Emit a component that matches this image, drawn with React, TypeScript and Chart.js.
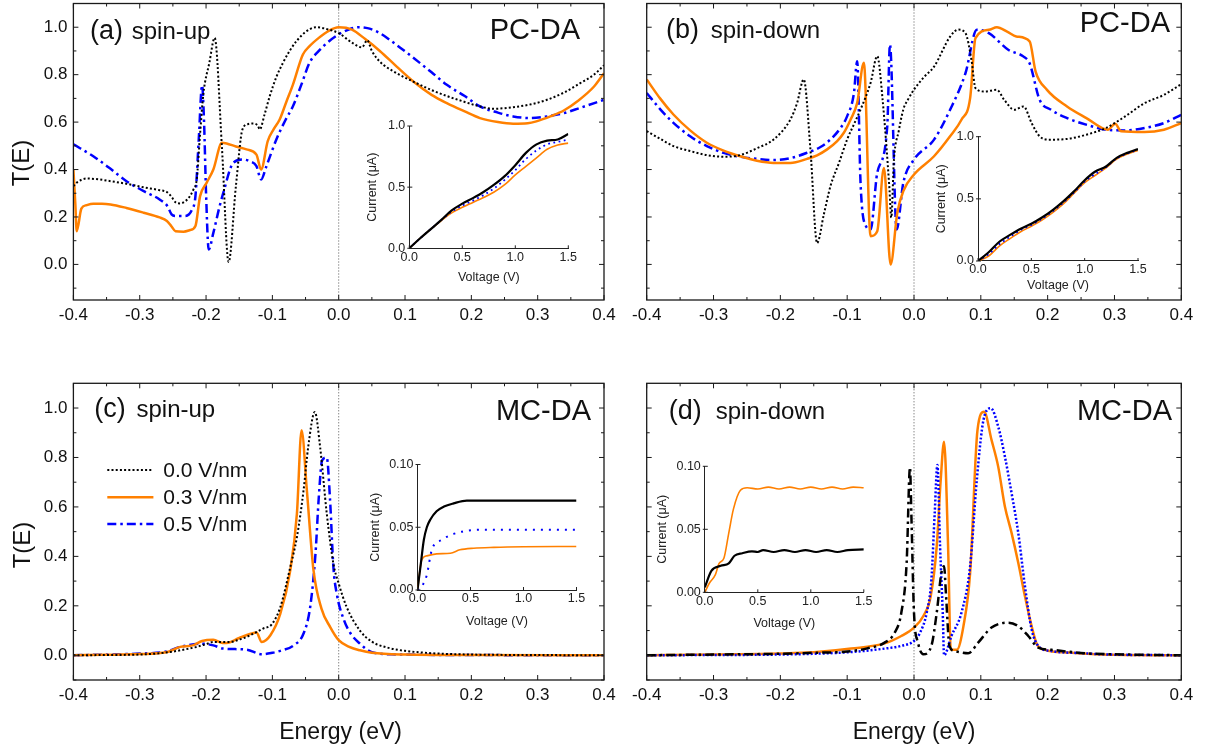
import React, { useEffect, useRef } from "react";
import { Chart, registerables } from "chart.js";
Chart.register(...registerables);

type Pt = [number, number];

// ---------- Axis tick values ----------
const ENERGY_TICKS = [-0.4, -0.3, -0.2, -0.1, 0, 0.1, 0.2, 0.3, 0.4];
const ENERGY_MINOR = [-0.35, -0.25, -0.15, -0.05, 0.05, 0.15, 0.25, 0.35];
const T_TICKS = [0, 0.2, 0.4, 0.6, 0.8, 1.0];
const T_MINOR = [-0.1, 0.1, 0.3, 0.5, 0.7, 0.9];
const V_TICKS = [0, 0.5, 1.0, 1.5];
const I_TICKS_PC = [0, 0.5, 1.0];
const I_TICKS_MC = [0, 0.05, 0.1];
const FIELD_LABELS = ["0.0 V/nm", "0.3 V/nm", "0.5 V/nm"];

// ---------- (a) PC-DA spin-up : T(E) ----------
const A_F00: Pt[] = [[-0.4,0.33],[-0.395,0.345],[-0.38,0.362],[-0.36,0.358],[-0.344,0.351],[-0.32,0.34],[-0.294,0.325],[-0.27,0.313],[-0.259,0.305],[-0.252,0.285],[-0.246,0.262],[-0.239,0.257],[-0.232,0.265],[-0.226,0.281],[-0.219,0.316],[-0.214,0.36],[-0.209,0.55],[-0.204,0.72],[-0.195,0.85],[-0.187,0.955],[-0.176,0.49],[-0.166,0.01],[-0.155,0.33],[-0.145,0.57],[-0.136,0.592],[-0.129,0.594],[-0.122,0.585],[-0.119,0.569],[-0.112,0.63],[-0.104,0.709],[-0.094,0.79],[-0.084,0.85],[-0.074,0.9],[-0.064,0.94],[-0.05,0.98],[-0.034,1.0],[-0.015,0.99],[0.0,0.975],[0.02,0.935],[0.035,0.915],[0.043,0.945],[0.05,0.9],[0.062,0.855],[0.085,0.81],[0.113,0.77],[0.14,0.735],[0.163,0.71],[0.19,0.685],[0.213,0.666],[0.233,0.656],[0.263,0.663],[0.29,0.675],[0.314,0.694],[0.34,0.725],[0.364,0.764],[0.385,0.8],[0.4,0.84]];
const A_F03: Pt[] = [[-0.4,0.4],[-0.397,0.25],[-0.395,0.14],[-0.388,0.235],[-0.38,0.25],[-0.37,0.256],[-0.357,0.256],[-0.344,0.253],[-0.32,0.238],[-0.294,0.218],[-0.27,0.198],[-0.259,0.183],[-0.252,0.16],[-0.246,0.14],[-0.234,0.138],[-0.224,0.145],[-0.216,0.162],[-0.209,0.288],[-0.199,0.345],[-0.189,0.4],[-0.176,0.513],[-0.169,0.51],[-0.155,0.497],[-0.139,0.485],[-0.124,0.463],[-0.117,0.4],[-0.107,0.52],[-0.098,0.57],[-0.089,0.611],[-0.079,0.685],[-0.069,0.758],[-0.054,0.885],[-0.044,0.92],[-0.03,0.955],[-0.015,0.985],[0.0,1.0],[0.02,0.99],[0.04,0.95],[0.062,0.9],[0.087,0.835],[0.113,0.77],[0.14,0.715],[0.163,0.68],[0.19,0.645],[0.213,0.617],[0.24,0.6],[0.263,0.593],[0.285,0.595],[0.298,0.603],[0.32,0.625],[0.34,0.65],[0.361,0.69],[0.385,0.75],[0.4,0.806]];
const A_F05: Pt[] = [[-0.4,0.506],[-0.37,0.456],[-0.345,0.405],[-0.32,0.351],[-0.294,0.309],[-0.27,0.274],[-0.258,0.245],[-0.252,0.211],[-0.245,0.204],[-0.232,0.204],[-0.221,0.232],[-0.216,0.288],[-0.211,0.527],[-0.206,0.755],[-0.203,0.6],[-0.2,0.3],[-0.196,0.063],[-0.189,0.133],[-0.18,0.24],[-0.174,0.302],[-0.159,0.428],[-0.144,0.442],[-0.134,0.435],[-0.124,0.414],[-0.117,0.358],[-0.109,0.414],[-0.094,0.527],[-0.08,0.61],[-0.069,0.667],[-0.056,0.76],[-0.044,0.85],[-0.03,0.9],[-0.015,0.94],[0.0,0.97],[0.015,0.99],[0.03,1.0],[0.045,0.995],[0.062,0.975],[0.085,0.93],[0.113,0.87],[0.14,0.81],[0.163,0.757],[0.19,0.71],[0.213,0.666],[0.24,0.64],[0.263,0.624],[0.288,0.617],[0.314,0.624],[0.34,0.638],[0.364,0.66],[0.4,0.694]];

// ---------- (b) PC-DA spin-down : T(E) ----------
const B_F00: Pt[] = [[-0.4,0.562],[-0.38,0.53],[-0.36,0.499],[-0.335,0.478],[-0.31,0.461],[-0.285,0.454],[-0.26,0.461],[-0.235,0.49],[-0.21,0.527],[-0.185,0.611],[-0.175,0.68],[-0.165,0.78],[-0.155,0.485],[-0.145,0.09],[-0.135,0.21],[-0.125,0.33],[-0.112,0.43],[-0.1,0.527],[-0.09,0.59],[-0.08,0.653],[-0.065,0.765],[-0.055,0.878],[-0.047,0.695],[-0.037,0.33],[-0.034,0.197],[-0.03,0.442],[-0.023,0.56],[-0.016,0.653],[-0.008,0.7],[0.0,0.737],[0.015,0.79],[0.03,0.834],[0.054,0.96],[0.066,0.99],[0.077,0.975],[0.086,0.862],[0.092,0.743],[0.106,0.729],[0.124,0.736],[0.135,0.694],[0.15,0.652],[0.164,0.666],[0.176,0.596],[0.188,0.54],[0.202,0.526],[0.229,0.529],[0.258,0.547],[0.287,0.575],[0.316,0.624],[0.345,0.68],[0.374,0.715],[0.4,0.76]];
const B_F03: Pt[] = [[-0.4,0.78],[-0.38,0.7],[-0.36,0.632],[-0.335,0.565],[-0.31,0.513],[-0.285,0.48],[-0.26,0.456],[-0.235,0.437],[-0.21,0.428],[-0.185,0.428],[-0.16,0.445],[-0.145,0.46],[-0.13,0.485],[-0.115,0.52],[-0.105,0.555],[-0.095,0.61],[-0.085,0.681],[-0.075,0.85],[-0.065,0.119],[-0.055,0.14],[-0.045,0.407],[-0.035,0.0],[-0.025,0.218],[-0.016,0.309],[0.0,0.379],[0.03,0.456],[0.054,0.54],[0.071,0.61],[0.084,0.701],[0.092,0.954],[0.112,0.989],[0.124,1.0],[0.14,0.98],[0.153,0.961],[0.173,0.94],[0.182,0.813],[0.199,0.736],[0.229,0.666],[0.258,0.617],[0.29,0.568],[0.301,0.593],[0.31,0.561],[0.345,0.558],[0.374,0.568],[0.4,0.596]];
const B_F05: Pt[] = [[-0.4,0.723],[-0.38,0.655],[-0.36,0.597],[-0.335,0.54],[-0.31,0.499],[-0.285,0.47],[-0.26,0.454],[-0.235,0.445],[-0.21,0.44],[-0.185,0.448],[-0.16,0.471],[-0.14,0.495],[-0.125,0.527],[-0.11,0.575],[-0.1,0.625],[-0.09,0.72],[-0.085,0.857],[-0.08,0.344],[-0.072,0.162],[-0.065,0.147],[-0.055,0.386],[-0.04,0.583],[-0.036,0.927],[-0.026,0.147],[-0.016,0.344],[0.0,0.442],[0.03,0.526],[0.054,0.652],[0.077,0.806],[0.094,0.989],[0.112,0.975],[0.141,0.905],[0.164,0.876],[0.173,0.848],[0.188,0.694],[0.205,0.652],[0.229,0.617],[0.258,0.589],[0.287,0.568],[0.316,0.565],[0.345,0.575],[0.374,0.596],[0.4,0.631]];

// ---------- (c) MC-DA spin-up : T(E) ----------
const C_F00: Pt[] = [[-0.4,0.0],[-0.35,0.001],[-0.3,0.003],[-0.27,0.008],[-0.25,0.015],[-0.239,0.02],[-0.214,0.034],[-0.2,0.045],[-0.189,0.054],[-0.164,0.054],[-0.15,0.063],[-0.139,0.074],[-0.124,0.094],[-0.114,0.108],[-0.101,0.125],[-0.088,0.195],[-0.073,0.357],[-0.063,0.478],[-0.053,0.667],[-0.046,0.842],[-0.036,0.984],[-0.028,0.842],[-0.018,0.573],[-0.008,0.371],[0.0,0.29],[0.012,0.195],[0.032,0.1],[0.05,0.055],[0.075,0.03],[0.1,0.018],[0.15,0.007],[0.2,0.003],[0.3,0.001],[0.4,0.0]];
const C_F03: Pt[] = [[-0.4,0.0],[-0.35,0.002],[-0.3,0.005],[-0.26,0.012],[-0.239,0.034],[-0.22,0.04],[-0.206,0.058],[-0.189,0.063],[-0.175,0.05],[-0.169,0.05],[-0.15,0.07],[-0.131,0.088],[-0.124,0.092],[-0.116,0.054],[-0.103,0.081],[-0.088,0.168],[-0.073,0.344],[-0.063,0.573],[-0.056,0.91],[-0.048,0.667],[-0.038,0.344],[-0.026,0.189],[-0.013,0.115],[0.0,0.061],[0.015,0.035],[0.032,0.02],[0.05,0.01],[0.1,0.003],[0.2,0.001],[0.4,0.0]];
const C_F05: Pt[] = [[-0.4,0.0],[-0.35,0.003],[-0.3,0.007],[-0.26,0.015],[-0.239,0.034],[-0.206,0.047],[-0.189,0.04],[-0.174,0.027],[-0.139,0.023],[-0.116,0.004],[-0.1,0.01],[-0.088,0.018],[-0.068,0.04],[-0.053,0.088],[-0.043,0.195],[-0.035,0.411],[-0.03,0.64],[-0.025,0.788],[-0.018,0.8],[-0.013,0.627],[-0.008,0.357],[-0.003,0.25],[0.008,0.142],[0.018,0.088],[0.032,0.047],[0.05,0.012],[0.08,0.004],[0.2,0.001],[0.4,0.0]];

// ---------- (d) MC-DA spin-down : T(E) ----------
const D_F00: Pt[] = [[-0.4,0.0],[-0.3,0.003],[-0.2,0.006],[-0.15,0.01],[-0.1,0.015],[-0.07,0.028],[-0.044,0.051],[-0.029,0.091],[-0.019,0.172],[-0.011,0.374],[-0.006,0.76],[-0.004,0.575],[0.0,0.172],[0.006,0.051],[0.014,0.004],[0.026,0.038],[0.034,0.172],[0.041,0.333],[0.045,0.36],[0.048,0.239],[0.053,0.038],[0.061,0.017],[0.081,0.008],[0.096,0.051],[0.116,0.112],[0.141,0.132],[0.156,0.118],[0.171,0.078],[0.186,0.031],[0.206,0.022],[0.256,0.008],[0.3,0.004],[0.4,0.0]];
const D_F03: Pt[] = [[-0.4,0.0],[-0.3,0.003],[-0.2,0.007],[-0.15,0.012],[-0.094,0.027],[-0.044,0.048],[-0.019,0.078],[0.0,0.112],[0.014,0.159],[0.025,0.239],[0.034,0.441],[0.04,0.71],[0.045,0.864],[0.051,0.441],[0.055,0.024],[0.064,0.022],[0.074,0.118],[0.084,0.333],[0.095,0.911],[0.105,0.985],[0.116,0.871],[0.126,0.763],[0.136,0.602],[0.146,0.495],[0.156,0.374],[0.166,0.239],[0.176,0.118],[0.184,0.044],[0.196,0.022],[0.231,0.011],[0.281,0.003],[0.4,0.0]];
const D_F05: Pt[] = [[-0.4,0.0],[-0.2,0.003],[-0.15,0.006],[-0.094,0.013],[-0.044,0.027],[-0.019,0.038],[0.0,0.058],[0.009,0.091],[0.019,0.172],[0.026,0.306],[0.031,0.575],[0.035,0.77],[0.039,0.441],[0.043,0.172],[0.045,0.0],[0.056,0.078],[0.071,0.172],[0.084,0.36],[0.094,0.71],[0.104,0.952],[0.115,0.999],[0.126,0.925],[0.136,0.804],[0.146,0.656],[0.156,0.495],[0.166,0.28],[0.176,0.105],[0.186,0.038],[0.206,0.017],[0.256,0.008],[0.281,0.004],[0.4,0.0]];

// ---------- Insets : I(V) ----------
const IA_F00: Pt[] = [[0,0],[0.1,0.08],[0.2,0.155],[0.3,0.23],[0.4,0.31],[0.5,0.365],[0.6,0.41],[0.7,0.46],[0.8,0.52],[0.9,0.59],[1.0,0.68],[1.1,0.78],[1.2,0.85],[1.3,0.88],[1.4,0.89],[1.5,0.935]];
const IA_F03: Pt[] = [[0,0],[0.1,0.08],[0.2,0.155],[0.3,0.225],[0.4,0.29],[0.5,0.335],[0.6,0.375],[0.7,0.415],[0.8,0.46],[0.9,0.52],[1.0,0.6],[1.1,0.67],[1.2,0.74],[1.3,0.81],[1.4,0.845],[1.5,0.86]];
const IA_F05: Pt[] = [[0,0],[0.1,0.08],[0.2,0.155],[0.3,0.228],[0.4,0.3],[0.5,0.35],[0.6,0.39],[0.7,0.435],[0.8,0.49],[0.9,0.56],[1.0,0.64],[1.1,0.73],[1.2,0.8],[1.3,0.85],[1.4,0.87],[1.5,0.89]];

const IB_F00: Pt[] = [[0,0],[0.1,0.07],[0.2,0.155],[0.3,0.21],[0.4,0.26],[0.5,0.3],[0.6,0.35],[0.7,0.41],[0.8,0.48],[0.9,0.56],[1.0,0.65],[1.1,0.72],[1.2,0.76],[1.3,0.83],[1.4,0.87],[1.5,0.9]];
const IB_F03: Pt[] = [[0,0],[0.1,0.04],[0.2,0.12],[0.3,0.18],[0.4,0.235],[0.5,0.28],[0.6,0.33],[0.7,0.39],[0.8,0.46],[0.9,0.545],[1.0,0.63],[1.1,0.69],[1.2,0.75],[1.3,0.82],[1.4,0.86],[1.5,0.89]];
const IB_F05: Pt[] = [[0,0],[0.1,0.055],[0.2,0.135],[0.3,0.195],[0.4,0.25],[0.5,0.29],[0.6,0.34],[0.7,0.4],[0.8,0.47],[0.9,0.55],[1.0,0.64],[1.1,0.7],[1.2,0.755],[1.3,0.825],[1.4,0.865],[1.5,0.895]];

const IC_F00: Pt[] = [[0,0],[0.03,0.02],[0.06,0.04],[0.088,0.05],[0.12,0.056],[0.18,0.0627],[0.25,0.0665],[0.34,0.069],[0.465,0.0712],[0.75,0.0712],[1.0,0.0712],[1.5,0.0712]];
const IC_F03: Pt[] = [[0,0],[0.04,0.024],[0.088,0.0272],[0.18,0.0288],[0.31,0.0293],[0.4,0.032],[0.53,0.0333],[0.72,0.034],[1.0,0.0345],[1.5,0.0347]];
const IC_F05: Pt[] = [[0,0],[0.03,0.001],[0.057,0.0053],[0.088,0.012],[0.135,0.032],[0.23,0.04],[0.32,0.044],[0.43,0.0467],[0.6,0.048],[1.0,0.048],[1.5,0.048]];

const ID_F00: Pt[] = [[0,0.004],[0.062,0.017],[0.15,0.021],[0.226,0.023],[0.28,0.029],[0.354,0.031],[0.445,0.0325],[0.5,0.032],[0.55,0.0335],[0.65,0.032],[0.75,0.0335],[0.85,0.032],[0.95,0.0335],[1.05,0.032],[1.15,0.0335],[1.25,0.032],[1.35,0.0335],[1.5,0.034]];
const ID_F03: Pt[] = [[0,0],[0.044,0.0074],[0.1,0.014],[0.135,0.023],[0.18,0.027],[0.226,0.047],[0.27,0.066],[0.336,0.081],[0.4,0.083],[0.5,0.082],[0.6,0.0835],[0.7,0.082],[0.8,0.0835],[0.9,0.082],[1.0,0.0835],[1.1,0.082],[1.2,0.0835],[1.3,0.082],[1.4,0.0835],[1.5,0.083]];

// ---------- Styling ----------
const FONT = "'Liberation Sans', Arial, Helvetica, sans-serif";
const CW = 1210;
const CH = 749;
const MAIN_Y_W = 60;
const MAIN_X_H = 40;
const INSET_Y_W = 40;
const INSET_X_H = 30;
const TEXT = "#111";
const ORANGE_C = "#ff8000";
const BLUE_C = "#0000ff";

const BLACK_DOT = { borderColor: "#000", borderWidth: 2, borderDash: [2, 2.2] };
const BLUE_DASHDOT = { borderColor: BLUE_C, borderWidth: 2.5, borderDash: [9, 4, 2.5, 4] };
const ORANGE_SOLID = { borderColor: ORANGE_C, borderWidth: 2.5, borderDash: [] as number[] };
const BLACK_DASHDOT = { borderColor: "#000", borderWidth: 2.5, borderDash: [9, 4, 2.5, 4] };
const BLUE_DOT = { borderColor: BLUE_C, borderWidth: 2.5, borderDash: [2, 2] };
const IN_BLACK = { borderColor: "#000", borderWidth: 2.2, borderDash: [] as number[] };
const IN_ORANGE = { borderColor: ORANGE_C, borderWidth: 1.6, borderDash: [] as number[] };
const IN_BLUE = { borderColor: BLUE_C, borderWidth: 1.8, borderDash: [1.8, 3.5] };
const IN_BLUE_SPARSE = { borderColor: BLUE_C, borderWidth: 2, borderDash: [2, 6] };

interface Area { l: number; t: number; r: number; b: number }
interface Series { data: Pt[]; style: any }
interface MainSpec {
  area: Area; yMin: number; yMax: number; series: Series[]; showYLabels: boolean;
  tag: string; spin: string; tagX: number; spinX: number; labelY: number;
  mol: string; molRight: number; molY: number;
  yTitle?: { x: number; y: number }; xTitle?: { x: number; y: number };
  legend?: { x1: number; x2: number; tx: number; ys: number[] };
}
interface InsetSpec {
  area: Area; yMax: number; yTicks: number[]; yDigits: number; series: Series[];
  voltY: number; currX: number;
}

const MAIN_SPECS: MainSpec[] = [
  {
    area: { l: 73.4, t: 3.5, r: 604, b: 300 }, yMin: -0.15, yMax: 1.1,
    series: [{ data: A_F00, style: BLACK_DOT }, { data: A_F03, style: ORANGE_SOLID }, { data: A_F05, style: BLUE_DASHDOT }],
    showYLabels: true, tag: "(a)", spin: "spin-up", tagX: 16.6, spinX: 58.3, labelY: 35.8,
    mol: "PC-DA", molRight: 24, molY: 35.8, yTitle: { x: 22, y: 163 },
  },
  {
    area: { l: 646.7, t: 3.5, r: 1181.3, b: 300 }, yMin: -0.15, yMax: 1.1,
    series: [{ data: B_F00, style: BLACK_DOT }, { data: B_F03, style: ORANGE_SOLID }, { data: B_F05, style: BLUE_DASHDOT }],
    showYLabels: false, tag: "(b)", spin: "spin-down", tagX: 19.3, spinX: 64, labelY: 34.8,
    mol: "PC-DA", molRight: 11.3, molY: 28,
  },
  {
    area: { l: 73.4, t: 383.3, r: 604, b: 680 }, yMin: -0.1, yMax: 1.1,
    series: [{ data: C_F00, style: BLACK_DOT }, { data: C_F03, style: ORANGE_SOLID }, { data: C_F05, style: BLUE_DASHDOT }],
    showYLabels: true, tag: "(c)", spin: "spin-up", tagX: 20.9, spinX: 63.1, labelY: 34,
    mol: "MC-DA", molRight: 13, molY: 36.7, yTitle: { x: 23, y: 545 }, xTitle: { x: 340.6, y: 738.5 },
    legend: { x1: 107.3, x2: 153.4, tx: 163.3, ys: [470, 497.3, 524] },
  },
  {
    area: { l: 646.7, t: 383.3, r: 1181.3, b: 680 }, yMin: -0.1, yMax: 1.1,
    series: [{ data: D_F00, style: BLACK_DASHDOT }, { data: D_F05, style: BLUE_DOT }, { data: D_F03, style: ORANGE_SOLID }],
    showYLabels: false, tag: "(d)", spin: "spin-down", tagX: 22, spinX: 69, labelY: 36,
    mol: "MC-DA", molRight: 9.3, molY: 36.4, xTitle: { x: 914, y: 738.5 },
  },
];

const INSET_SPECS: InsetSpec[] = [
  { area: { l: 409.3, t: 126, r: 568.3, b: 248.3 }, yMax: 1.0, yTicks: I_TICKS_PC, yDigits: 1,
    series: [{ data: IA_F00, style: IN_BLACK }, { data: IA_F05, style: IN_BLUE }, { data: IA_F03, style: IN_ORANGE }], voltY: 277.7, currX: 373 },
  { area: { l: 978, t: 136.7, r: 1138, b: 261 }, yMax: 1.0, yTicks: I_TICKS_PC, yDigits: 1,
    series: [{ data: IB_F00, style: IN_BLACK }, { data: IB_F05, style: IN_BLUE }, { data: IB_F03, style: IN_ORANGE }], voltY: 285.5, currX: 942 },
  { area: { l: 417.5, t: 464.5, r: 576.5, b: 590 }, yMax: 0.1, yTicks: I_TICKS_MC, yDigits: 2,
    series: [{ data: IC_F00, style: IN_BLACK }, { data: IC_F05, style: IN_BLUE_SPARSE }, { data: IC_F03, style: IN_ORANGE }], voltY: 621.5, currX: 376 },
  { area: { l: 704.8, t: 466.3, r: 863.8, b: 592.3 }, yMax: 0.1, yTicks: I_TICKS_MC, yDigits: 2,
    series: [{ data: ID_F00, style: IN_BLACK }, { data: ID_F03, style: IN_ORANGE }], voltY: 623.7, currX: 663 },
];

function toDatasets(series: Series[]) {
  return series.map((s) => ({
    data: s.data.map(([x, y]) => ({ x, y })),
    ...s.style,
    fill: false,
    pointRadius: 0,
    pointHoverRadius: 0,
    cubicInterpolationMode: "monotone",
  }));
}

function mainDecor(spec: MainSpec) {
  return {
    id: "mainDecor",
    beforeDatasetsDraw(chart: any) {
      const { ctx, chartArea: a, scales } = chart;
      const x0 = scales.x.getPixelForValue(0);
      ctx.save();
      ctx.strokeStyle = "#555";
      ctx.lineWidth = 1;
      ctx.setLineDash([1, 2]);
      ctx.beginPath();
      ctx.moveTo(x0, a.top);
      ctx.lineTo(x0, a.bottom);
      ctx.stroke();
      ctx.restore();
    },
    afterDraw(chart: any) {
      const { ctx, chartArea: a, scales } = chart;
      const xs = scales.x;
      const ys = scales.y;
      ctx.save();
      ctx.setLineDash([]);
      ctx.strokeStyle = "#1a1a1a";
      ctx.lineWidth = 1.3;
      ctx.strokeRect(a.left, a.top, a.right - a.left, a.bottom - a.top);
      ctx.lineWidth = 1;
      const xTick = (vals: number[], len: number) => {
        vals.forEach((v) => {
          const p = xs.getPixelForValue(v);
          ctx.beginPath();
          ctx.moveTo(p, a.bottom); ctx.lineTo(p, a.bottom - len);
          ctx.moveTo(p, a.top); ctx.lineTo(p, a.top + len);
          ctx.stroke();
        });
      };
      const yTick = (vals: number[], len: number) => {
        vals.forEach((v) => {
          const p = ys.getPixelForValue(v);
          ctx.beginPath();
          ctx.moveTo(a.left, p); ctx.lineTo(a.left + len, p);
          ctx.moveTo(a.right, p); ctx.lineTo(a.right - len, p);
          ctx.stroke();
        });
      };
      xTick(ENERGY_TICKS, 5);
      xTick(ENERGY_MINOR, 3);
      yTick(T_TICKS, 5);
      yTick(T_MINOR, 3);

      ctx.fillStyle = TEXT;
      ctx.textBaseline = "alphabetic";
      ctx.textAlign = "left";
      ctx.font = `27px ${FONT}`;
      ctx.fillText(spec.tag, a.left + spec.tagX, a.top + spec.labelY);
      ctx.font = `24px ${FONT}`;
      ctx.fillText(spec.spin, a.left + spec.spinX, a.top + spec.labelY);
      ctx.textAlign = "right";
      ctx.font = `29px ${FONT}`;
      ctx.fillText(spec.mol, a.right - spec.molRight, a.top + spec.molY);

      if (spec.yTitle) {
        ctx.save();
        ctx.translate(spec.yTitle.x, spec.yTitle.y);
        ctx.rotate(-Math.PI / 2);
        ctx.textAlign = "center";
        ctx.textBaseline = "middle";
        ctx.font = `24px ${FONT}`;
        ctx.fillText("T(E)", 0, 0);
        ctx.restore();
      }
      if (spec.xTitle) {
        ctx.textAlign = "center";
        ctx.textBaseline = "alphabetic";
        ctx.font = `23px ${FONT}`;
        ctx.fillText("Energy (eV)", spec.xTitle.x, spec.xTitle.y);
      }
      if (spec.legend) {
        const lg = spec.legend;
        spec.series.forEach((s, i) => {
          const yy = lg.ys[i];
          ctx.save();
          ctx.strokeStyle = s.style.borderColor;
          ctx.lineWidth = s.style.borderWidth;
          ctx.setLineDash(s.style.borderDash);
          ctx.beginPath();
          ctx.moveTo(lg.x1, yy);
          ctx.lineTo(lg.x2, yy);
          ctx.stroke();
          ctx.restore();
          ctx.fillStyle = TEXT;
          ctx.textAlign = "left";
          ctx.textBaseline = "middle";
          ctx.font = `21px ${FONT}`;
          ctx.fillText(FIELD_LABELS[i], lg.tx, yy + 1);
        });
      }
      ctx.restore();
    },
  };
}

function insetDecor(spec: InsetSpec) {
  return {
    id: "insetDecor",
    afterDraw(chart: any) {
      const { ctx, chartArea: a, scales } = chart;
      ctx.save();
      ctx.strokeStyle = "#222";
      ctx.lineWidth = 1;
      V_TICKS.forEach((v) => {
        const p = scales.x.getPixelForValue(v);
        ctx.beginPath();
        ctx.moveTo(p, a.bottom);
        ctx.lineTo(p, a.bottom - 3);
        ctx.stroke();
      });
      spec.yTicks.forEach((v) => {
        const p = scales.y.getPixelForValue(v);
        ctx.beginPath();
        ctx.moveTo(a.left - 2, p);
        ctx.lineTo(a.left + 3, p);
        ctx.stroke();
      });
      ctx.fillStyle = "#222";
      ctx.font = `12.5px ${FONT}`;
      ctx.textAlign = "center";
      ctx.textBaseline = "middle";
      ctx.fillText("Voltage (V)", (a.left + a.right) / 2, spec.voltY);
      ctx.translate(spec.currX, (a.top + a.bottom) / 2);
      ctx.rotate(-Math.PI / 2);
      ctx.fillText("Current (\u03bcA)", 0, 0);
      ctx.restore();
    },
  };
}

function buildMain(spec: MainSpec) {
  const a = spec.area;
  return {
    type: "line",
    data: { datasets: toDatasets(spec.series) },
    options: {
      responsive: false, animation: false, devicePixelRatio: 1, events: [],
      layout: { autoPadding: false, padding: { left: a.l - MAIN_Y_W, right: CW - a.r, top: a.t, bottom: CH - a.b - MAIN_X_H } },
      plugins: { legend: { display: false }, tooltip: { enabled: false }, title: { display: false } },
      scales: {
        x: {
          type: "linear", min: -0.4, max: 0.4,
          grid: { display: false, drawTicks: false }, border: { display: false },
          afterBuildTicks: (s: any) => { s.ticks = ENERGY_TICKS.map((v) => ({ value: v })); },
          afterFit: (s: any) => { s.height = MAIN_X_H; s.paddingLeft = 0; s.paddingRight = 0; },
          ticks: { autoSkip: false, maxRotation: 0, minRotation: 0, padding: 5.5, color: TEXT,
            font: { family: FONT, size: 17 }, callback: (v: any) => Number(v).toFixed(1) },
        },
        y: {
          type: "linear", min: spec.yMin, max: spec.yMax,
          grid: { display: false, drawTicks: false }, border: { display: false },
          afterBuildTicks: (s: any) => { s.ticks = T_TICKS.map((v) => ({ value: v })); },
          afterFit: (s: any) => { s.width = MAIN_Y_W; s.paddingTop = 0; s.paddingBottom = 0; },
          ticks: { display: spec.showYLabels, autoSkip: false, padding: 6, color: TEXT,
            font: { family: FONT, size: 17 }, callback: (v: any) => Number(v).toFixed(1) },
        },
      },
    },
    plugins: [mainDecor(spec)],
  };
}

function buildInset(spec: InsetSpec) {
  const a = spec.area;
  return {
    type: "line",
    data: { datasets: toDatasets(spec.series) },
    options: {
      responsive: false, animation: false, devicePixelRatio: 1, events: [],
      layout: { autoPadding: false, padding: { left: a.l - INSET_Y_W, right: CW - a.r, top: a.t, bottom: CH - a.b - INSET_X_H } },
      plugins: { legend: { display: false }, tooltip: { enabled: false }, title: { display: false } },
      scales: {
        x: {
          type: "linear", min: 0, max: 1.5,
          grid: { display: false, drawTicks: false }, border: { display: true, color: "#222", width: 1 },
          afterBuildTicks: (s: any) => { s.ticks = V_TICKS.map((v) => ({ value: v })); },
          afterFit: (s: any) => { s.height = INSET_X_H; s.paddingLeft = 0; s.paddingRight = 0; },
          ticks: { autoSkip: false, maxRotation: 0, minRotation: 0, padding: 1.5, color: "#222",
            font: { family: FONT, size: 12.5 }, callback: (v: any) => Number(v).toFixed(1) },
        },
        y: {
          type: "linear", min: 0, max: spec.yMax,
          grid: { display: false, drawTicks: false }, border: { display: true, color: "#222", width: 1 },
          afterBuildTicks: (s: any) => { s.ticks = spec.yTicks.map((v) => ({ value: v })); },
          afterFit: (s: any) => { s.width = INSET_Y_W; s.paddingTop = 0; s.paddingBottom = 0; },
          ticks: { autoSkip: false, padding: 4, color: "#222",
            font: { family: FONT, size: 12.5 }, callback: (v: any) => Number(v).toFixed(spec.yDigits) },
        },
      },
    },
    plugins: [insetDecor(spec)],
  };
}

function ChartCanvas({ config }: { config: any }) {
  const ref = useRef<HTMLCanvasElement | null>(null);
  useEffect(() => {
    if (!ref.current) return;
    const chart = new Chart(ref.current, config);
    return () => chart.destroy();
  }, [config]);
  return (
    <canvas
      ref={ref}
      width={CW}
      height={CH}
      style={{ position: "absolute", left: 0, top: 0, width: CW, height: CH, pointerEvents: "none" }}
    />
  );
}

const CONFIGS = [...MAIN_SPECS.map(buildMain), ...INSET_SPECS.map(buildInset)];

export default function App() {
  return (
    <div style={{ position: "absolute", left: 0, top: 0, width: CW, height: CH, background: "#fff", overflow: "hidden" }}>
      {CONFIGS.map((c, i) => (
        <ChartCanvas key={i} config={c} />
      ))}
    </div>
  );
}
